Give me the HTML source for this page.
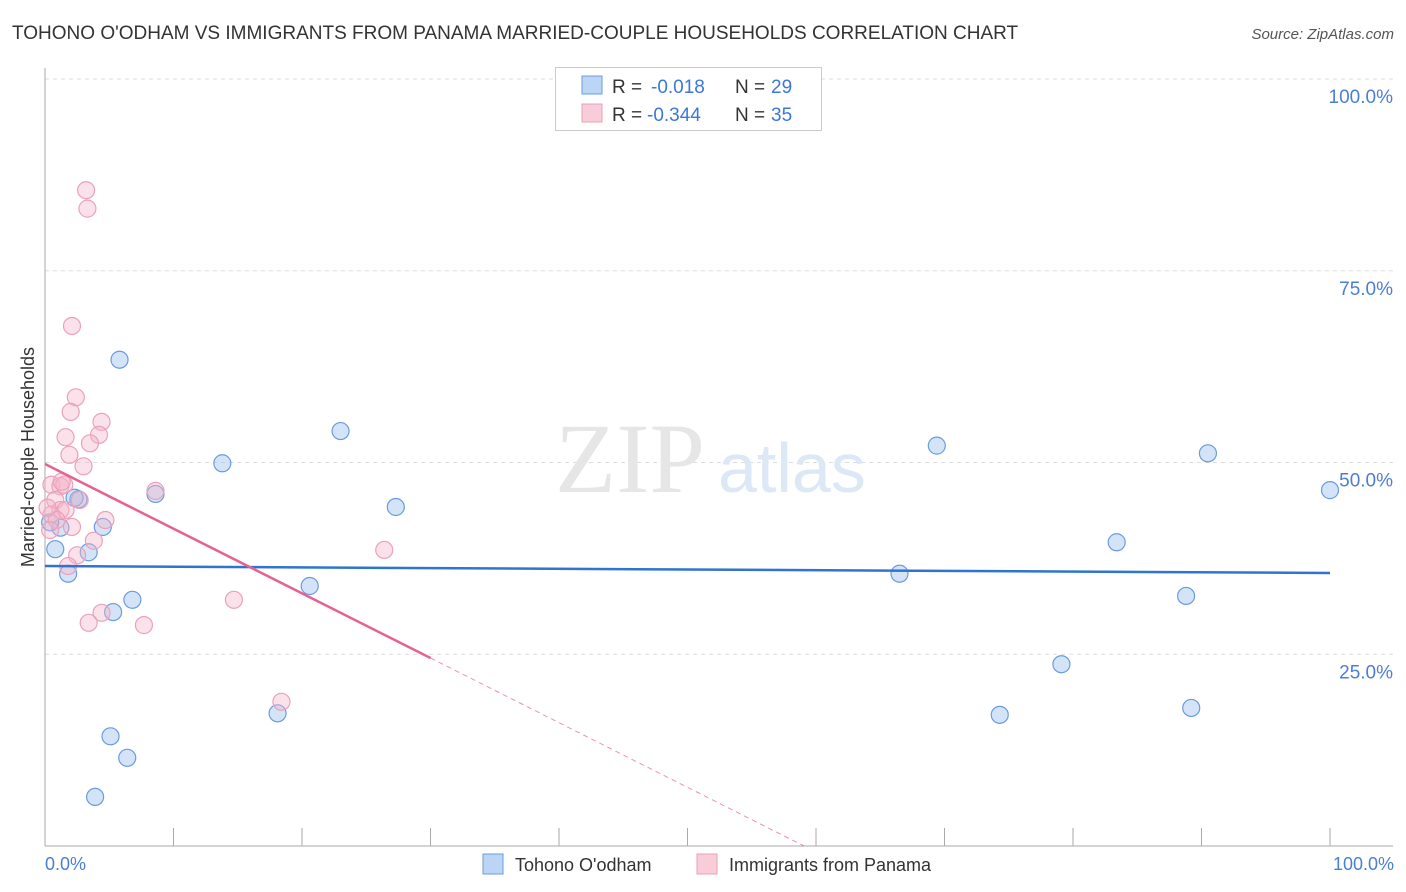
<!DOCTYPE html>
<html><head><meta charset="utf-8"><style>
body{margin:0;background:#fff;font-family:"Liberation Sans",sans-serif}
svg{display:block}
</style></head><body>
<svg width="1406" height="892">
<text x="12" y="39" font-size="19" fill="#333">TOHONO O'ODHAM VS IMMIGRANTS FROM PANAMA MARRIED-COUPLE HOUSEHOLDS CORRELATION CHART</text>
<text x="1394" y="39" font-size="15" fill="#555" text-anchor="end" font-style="italic">Source: ZipAtlas.com</text>
<g id="grid"></g>
<text x="555" y="492" font-size="100" fill="#e6e6e6" font-family="Liberation Serif">ZIP</text>
<text x="718" y="492" font-size="70" fill="#dde8f6">atlas</text>
<g id="marks"></g>
<text transform="translate(34,457) rotate(-90)" font-size="18" fill="#333" text-anchor="middle">Married-couple Households</text>
<text x="45" y="870" font-size="18" fill="#4a7fd4">0.0%</text>
<text x="1394" y="870" font-size="18" fill="#4a7fd4" text-anchor="end">100.0%</text>
<g>
<rect x="555.5" y="67.5" width="266" height="63" fill="#fff" stroke="#ccc"/>
<rect x="582" y="76" width="20" height="18" fill="#bcd5f5" stroke="#6a9be0"/>
<rect x="582" y="104" width="20" height="18" fill="#f9ccd9" stroke="#e8a0b8"/>
<text x="612" y="93" font-size="19" fill="#333">R =</text>
<text x="651" y="93" font-size="19" fill="#3b78d8">-0.018</text>
<text x="735" y="93" font-size="19" fill="#333">N =</text>
<text x="771" y="93" font-size="19" fill="#3b78d8">29</text>
<text x="612" y="121" font-size="19" fill="#333">R =</text>
<text x="647" y="121" font-size="19" fill="#3b78d8">-0.344</text>
<text x="735" y="121" font-size="19" fill="#333">N =</text>
<text x="771" y="121" font-size="19" fill="#3b78d8">35</text>
</g>
<g>
<rect x="483" y="854" width="20" height="20" fill="#bcd5f5" stroke="#6a9be0"/>
<text x="515" y="871" font-size="18" fill="#333">Tohono O'odham</text>
<rect x="697" y="854" width="20" height="20" fill="#f9ccd9" stroke="#e8a0b8"/>
<text x="729" y="871" font-size="18" fill="#333">Immigrants from Panama</text>
</g>
</svg>
<script>
const yTicks=[25,50,75,100];
const yTickLabels=["25.0%","50.0%","75.0%","100.0%"];
const xTicks=[0,10,20,30,40,50,60,70,80,90,100];
const blueX=[5.8,23.0,13.8,69.4,90.5,100,8.6,2.6,27.3,4.5,1.2,0.8,3.4,83.4,1.8,66.5,20.6,6.8,5.3,88.8,79.1,18.1,74.3,89.2,5.1,6.4,3.9,0.4,2.3];
const blueY=[63.4,54.1,49.9,52.2,51.2,46.4,45.9,45.2,44.2,41.6,41.5,38.7,38.3,39.6,35.5,35.5,33.9,32.1,30.5,32.6,23.7,17.3,17.1,18.0,14.3,11.5,6.4,42.2,45.4];
const pinkX=[3.2,3.3,2.1,2.4,2.0,4.4,4.2,1.6,3.5,1.9,3.0,8.6,0.5,1.2,1.5,2.7,0.8,1.2,1.6,0.5,0.9,4.7,2.1,3.8,26.4,2.5,1.8,4.4,3.4,7.7,14.7,18.4,0.4,0.2,1.3];
const pinkY=[85.5,83.1,67.8,58.5,56.6,55.3,53.6,53.3,52.5,51.0,49.5,46.3,47.1,46.9,47.1,45.1,45.1,43.8,43.8,43.2,42.5,42.5,41.6,39.8,38.6,37.9,36.5,30.4,29.1,28.8,32.1,18.8,41.2,44.1,47.5];
const blueTrend=[36.5,35.6];
const pinkTrend=[49.8,-0.843];
const pinkSolidEnd=30;
const X=v=>45+v*12.85, Y=v=>846-v*7.67;
const NS="http://www.w3.org/2000/svg";
function mk(t,a,p){const e=document.createElementNS(NS,t);for(const k in a)e.setAttribute(k,a[k]);p.appendChild(e);return e;}
const grid=document.getElementById('grid'),marks=document.getElementById('marks');
yTicks.forEach((t,i)=>{
 const l=mk('line',{x1:45,x2:1393,y1:Y(t),y2:Y(t),stroke:'#ddd','stroke-dasharray':'4,4'},grid);
 
 
 const tx=mk('text',{x:1393,y:Y(t)+24,'font-size':19,fill:'#4a7fd4','text-anchor':'end'},grid);
 tx.textContent=yTickLabels[i];
 
 
});
const ax=mk('line',{x1:45,x2:45,y1:68,y2:846,stroke:'#aaa'},grid);


const bx=mk('line',{x1:45,x2:1393,y1:846,y2:846,stroke:'#aaa'},grid);


xTicks.forEach(t=>{
 const l=mk('line',{x1:X(t),x2:X(t),y1:828,y2:846,stroke:'#aaa'},grid);
 
 
});
blueX.forEach((v,i)=>{
 const c=mk('circle',{cx:X(v),cy:Y(blueY[i]),r:8.5,fill:'rgba(160,196,240,0.45)',stroke:'#6a9be0','stroke-width':1.2},marks);
 
 
});
pinkX.forEach((v,i)=>{
 const c=mk('circle',{cx:X(v),cy:Y(pinkY[i]),r:8.5,fill:'rgba(245,180,200,0.4)',stroke:'#eaa2bb','stroke-width':1.2},marks);
 
 
});
const bl=mk('line',{x1:X(0),y1:Y(blueTrend[0]),x2:X(100),y2:Y(blueTrend[1]),stroke:'#2f74d0','stroke-width':2.5},marks);


const pv=x=>pinkTrend[0]+pinkTrend[1]*x;
const pl=mk('line',{x1:X(0),y1:Y(pv(0)),x2:X(pinkSolidEnd),y2:Y(pv(pinkSolidEnd)),stroke:'#e4648f','stroke-width':2.5},marks);


const xz=-pinkTrend[0]/pinkTrend[1];
const pd=mk('line',{x1:X(pinkSolidEnd),y1:Y(pv(pinkSolidEnd)),x2:X(xz),y2:Y(0),stroke:'#e4648f','stroke-width':1,'stroke-dasharray':'5,4',opacity:0.7},marks);


</script>
</body></html>
